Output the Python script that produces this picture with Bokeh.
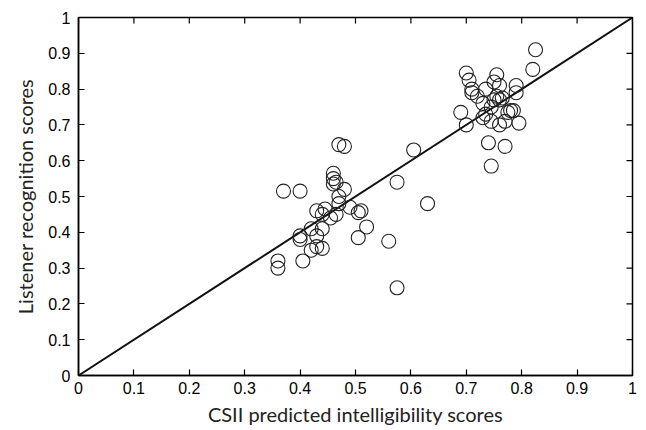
import math
from bokeh.plotting import figure
from bokeh.models import FixedTicker, Range1d
from bokeh.embed import file_html
from bokeh.resources import INLINE

csii = [0.36, 0.36, 0.37, 0.40, 0.40, 0.40, 0.405, 0.42, 0.42, 0.43, 0.43, 0.43,
        0.44, 0.44, 0.44, 0.445, 0.455, 0.46, 0.46, 0.46, 0.465, 0.465, 0.47, 0.47,
        0.47, 0.48, 0.48, 0.49, 0.505, 0.505, 0.51, 0.52, 0.56, 0.575, 0.575, 0.605, 0.63,
        0.69, 0.70, 0.70, 0.705, 0.71, 0.71, 0.72, 0.73, 0.73, 0.735, 0.735, 0.74, 0.745,
        0.745, 0.745, 0.75, 0.75, 0.755, 0.755, 0.76, 0.76, 0.76, 0.765, 0.77, 0.77,
        0.775, 0.78, 0.785, 0.79, 0.79, 0.795, 0.82, 0.825]
listener = [0.32, 0.30, 0.515, 0.515, 0.39, 0.38, 0.32, 0.35, 0.41, 0.46, 0.39, 0.36,
            0.355, 0.45, 0.41, 0.465, 0.44, 0.565, 0.55, 0.535, 0.54, 0.45, 0.50, 0.48,
            0.645, 0.64, 0.52, 0.47, 0.385, 0.455, 0.46, 0.415, 0.375, 0.54, 0.245, 0.63, 0.48,
            0.735, 0.845, 0.70, 0.825, 0.80, 0.79, 0.78, 0.76, 0.72, 0.80, 0.73, 0.65, 0.585,
            0.75, 0.71, 0.82, 0.77, 0.84, 0.78, 0.81, 0.77, 0.70, 0.775, 0.64, 0.71,
            0.735, 0.74, 0.74, 0.79, 0.81, 0.705, 0.855, 0.91]
line_x = [0, 1]
line_y = [0, 1]
ticks = [0, 0.1, 0.2, 0.3, 0.4, 0.5, 0.6, 0.7, 0.8, 0.9, 1]
tick_labels = ["0", "0.1", "0.2", "0.3", "0.4", "0.5", "0.6", "0.7", "0.8", "0.9", "1"]

p = figure(width=646, height=430, output_backend="svg", toolbar_location=None,
           x_range=Range1d(0, 1), y_range=Range1d(0, 1),
           min_border_left=78, min_border_right=14, min_border_top=17, min_border_bottom=55,
           x_axis_label="CSII predicted intelligibility scores",
           y_axis_label="Listener recognition scores")
p.background_fill_color = "white"
p.border_fill_color = "white"
p.grid.visible = False
p.outline_line_color = "black"
p.outline_line_width = 1.5

p.line(line_x, line_y, line_color="#111111", line_width=2)
p.scatter(csii, listener, marker="circle", size=14, fill_color=None,
          line_color="#222222", line_width=1.1)

# inward ticks on the right and top frame edges
n = len(ticks)
p.ray(x=[1] * n, y=ticks, length=6, length_units="screen", angle=math.pi,
      line_color="black", line_width=1.2)
p.ray(x=ticks, y=[1] * n, length=6, length_units="screen", angle=-math.pi / 2,
      line_color="black", line_width=1.2)

overrides = {t: l for t, l in zip(ticks, tick_labels)}
for ax in [p.xaxis[0], p.yaxis[0]]:
    ax.ticker = FixedTicker(ticks=ticks)
    ax.major_label_overrides = overrides
    ax.major_tick_in = 6
    ax.major_tick_out = 0
    ax.minor_tick_in = 0
    ax.minor_tick_out = 0
    ax.axis_line_color = "black"
    ax.axis_line_width = 1.5
    ax.major_tick_line_color = "black"
    ax.major_tick_line_width = 1.2
    ax.major_label_text_font = "Liberation Sans"
    ax.major_label_text_font_size = "16px"
    ax.major_label_text_color = "black"
    ax.axis_label_text_font = "Lato"
    ax.axis_label_text_font_size = "20px"
    ax.axis_label_text_font_style = "normal"
    ax.axis_label_text_color = "#222222"
p.xaxis[0].major_label_standoff = 6
p.yaxis[0].major_label_standoff = 8
p.xaxis[0].axis_label_standoff = 5
p.yaxis[0].axis_label_standoff = 8

open("out.html", "w").write(file_html(p, INLINE))
